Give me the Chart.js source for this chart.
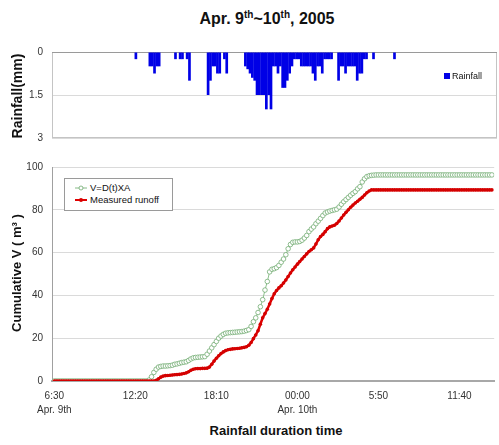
<!DOCTYPE html>
<html>
<head>
<meta charset="utf-8">
<script src="https://cdn.jsdelivr.net/npm/chart.js@4/dist/chart.umd.min.js"></script>
<style>
html,body{margin:0;padding:0;background:#fff;width:499px;height:445px;overflow:hidden;font-family:"Liberation Sans",Arial,sans-serif;color:#111;}
.abs{position:absolute;}
canvas{position:absolute;left:0;}
#title{left:137px;width:260px;top:9px;text-align:center;font-weight:bold;font-size:16px;line-height:20px;}
#title sup{font-size:10px;vertical-align:6px;line-height:0;}
.ytitle{width:220px;height:16px;line-height:16px;text-align:center;font-weight:bold;font-size:13px;transform:rotate(-90deg);}
#xtitle{left:176px;width:200px;top:423px;text-align:center;font-weight:bold;font-size:13px;line-height:16px;}
#leg2{left:64px;top:178px;width:107px;height:31px;border:1px solid #9a9a9a;background:#fff;font-size:9.5px;line-height:12px;}
.li{position:absolute;left:8px;white-space:nowrap;}
.li svg{position:absolute;left:0;top:0;}
.li span{position:absolute;left:17px;top:0;}
#leg1{left:444px;top:70px;font-size:9px;line-height:12px;white-space:nowrap;}
#leg1 i{display:inline-block;width:6px;height:6px;background:#0000e6;margin-right:2px;vertical-align:0px;}
</style>
</head>
<body>
<div id="title" class="abs">Apr. 9<sup>th</sup>~10<sup>th</sup>, 2005</div>
<canvas id="c2" width="499" height="270" style="top:150px"></canvas>
<canvas id="c1" width="499" height="116" style="top:37px"></canvas>
<div class="abs ytitle" style="left:-93px;top:88px;font-size:14px;">Rainfall(mm)</div>
<div class="abs ytitle" style="left:-93px;top:265px;">Cumulative V ( m³ )</div>
<div id="xtitle" class="abs">Rainfall duration time</div>
<div id="leg1" class="abs"><i></i>Rainfall</div>
<div id="leg2" class="abs">
  <div class="li" style="top:3px;"><svg width="16" height="12"><line x1="2" y1="6" x2="14" y2="6" stroke="#86bb86" stroke-width="1"/><circle cx="8" cy="6" r="2" fill="#fff" stroke="#70aa70" stroke-width="0.8"/></svg><span>V=D(t)XA</span></div>
  <div class="li" style="top:15px;"><svg width="16" height="12"><line x1="2" y1="6" x2="14" y2="6" stroke="#e00000" stroke-width="2"/><circle cx="8" cy="6" r="2" fill="#d80000"/></svg><span>Measured runoff</span></div>
</div>
<script>
// ---- data (10-minute steps starting 6:30 Apr. 9th) ----
const timeTicks = [0, 35, 70, 105, 140, 175];
const tickLabels = ["6:30", "12:20", "18:10", "00:00", "5:50", "11:40"];
const dateLabels = ["Apr. 9th", "", "", "Apr. 10th", "", ""];
const rainTicks = [0, 1.5, 3];
const volumeTicks = [0, 20, 40, 60, 80, 100];

const rainfall = [
 0,0,0,0,0,0,0,0,0,0,
 0,0,0,0,0,0,0,0,0,0,
 0,0,0,0,0,0,0,0,0,0,
 0,0,0,0,0,0.25,0,0,0,0,
 0,0.5,0.5,0.75,0.5,0.5,0,0,0,0,
 0,0,0.25,0,0.25,0.25,0,0.25,1.0,0,
 0,0,0,0,0,0,1.5,1.0,0.5,0.5,
 0.75,0.75,0,0.25,0.75,0,0,0,0,0,
 0,0,0.5,0.6,0.75,0.9,1.0,1.5,1.5,1.5,
 1.5,2.0,1.5,2.0,0.5,0.5,0.75,0.5,1.25,1.25,
 1.0,0.75,0.5,0.25,0.25,0.25,0.5,0.5,0.5,0.5,
 0.5,0.75,1.0,0.5,0.5,0.75,0.25,0.25,0.25,0.25,
 0,0,1.0,0.5,0.5,0.75,0.5,0.5,0.5,0.5,
 1.0,0.75,0.75,0.25,0.25,0,0,0.25,0,0,
 0,0,0,0,0,0,0.25,0,0,0,
 0,0,0,0,0,0,0,0,0,0,
 0,0,0,0,0,0,0,0,0,0,
 0,0,0,0,0,0,0,0,0,0,
 0,0,0,0,0,0,0,0,0,0
];

const vDtXA = [
 0,0,0,0,0,0,0,0,0,0,
 0,0,0,0,0,0,0,0,0,0,
 0,0,0,0,0,0,0,0,0,0,
 0,0,0,0,0,0,0,0,0,0,
 0,0.5,2.0,4.0,5.5,6.5,6.8,7.0,7.0,7.1,
 7.2,7.4,7.8,8.0,8.3,8.6,8.8,9.0,9.6,10.3,
 10.8,11.0,11.1,11.2,11.3,11.4,12.5,14.0,15.5,17.0,
 18.5,20.0,21.0,21.8,22.3,22.5,22.6,22.7,22.8,22.9,
 23.0,23.1,23.3,23.6,24.0,25.5,27.7,29.5,32.0,34.7,
 38.0,42.5,46.5,51.0,52.2,52.5,53.0,54.0,55.5,57.0,
 59.0,61.8,63.8,64.8,65.0,65.0,65.2,65.8,66.8,68.0,
 69.8,71.0,72.0,73.5,74.7,76.0,77.3,78.5,79.0,79.4,
 79.7,80.0,80.3,81.3,82.6,83.8,84.8,85.8,86.8,87.7,
 88.5,89.8,90.8,93.0,94.5,95.5,95.9,96.1,96.2,96.3,
 96.3,96.3,96.3,96.3,96.3,96.3,96.3,96.3,96.3,96.3,
 96.3,96.3,96.3,96.3,96.3,96.3,96.3,96.3,96.3,96.3,
 96.3,96.3,96.3,96.3,96.3,96.3,96.3,96.3,96.3,96.3,
 96.3,96.3,96.3,96.3,96.3,96.3,96.3,96.3,96.3,96.3,
 96.3,96.3,96.3,96.3,96.3,96.3,96.3,96.3,96.3,96.3
];

const measuredRunoff = [
 0,0,0,0,0,0,0,0,0,0,
 0,0,0,0,0,0,0,0,0,0,
 0,0,0,0,0,0,0,0,0,0,
 0,0,0,0,0,0,0,0,0,0,
 0,0,0,0,0.3,1.0,1.8,2.3,2.5,2.6,
 2.7,2.8,2.9,3.0,3.1,3.3,3.5,3.8,4.3,5.0,
 5.5,5.7,5.8,5.8,5.9,5.9,6.0,6.5,7.8,9.3,
 10.6,11.8,12.8,13.6,14.2,14.6,14.8,15.0,15.1,15.2,
 15.3,15.5,15.7,16.0,16.7,18.0,19.8,21.5,23.5,26.5,
 29.5,31.5,33.5,36.0,38.5,40.8,42.3,43.5,44.5,45.8,
 47.2,48.8,50.5,52.0,53.3,54.6,55.8,57.0,58.2,59.4,
 60.5,61.3,62.2,64.0,66.0,67.5,68.5,69.8,71.2,72.0,
 72.4,72.8,73.6,74.8,76.2,77.6,78.8,80.0,81.2,82.2,
 83.2,84.0,84.9,85.8,86.9,88.0,88.8,89.3,89.3,89.3,
 89.3,89.3,89.3,89.3,89.3,89.3,89.3,89.3,89.3,89.3,
 89.3,89.3,89.3,89.3,89.3,89.3,89.3,89.3,89.3,89.3,
 89.3,89.3,89.3,89.3,89.3,89.3,89.3,89.3,89.3,89.3,
 89.3,89.3,89.3,89.3,89.3,89.3,89.3,89.3,89.3,89.3,
 89.3,89.3,89.3,89.3,89.3,89.3,89.3,89.3,89.3,89.3
];

// ---- charts ----
const FONT = '"Liberation Sans", Arial, sans-serif';
const toXY = arr => arr.map((v, i) => ({x: i, y: v}));

const framePlugin = {
  id: 'frame',
  beforeDatasetsDraw(chart) {
    const a = chart.chartArea, ctx = chart.ctx;
    ctx.save();
    ctx.strokeStyle = '#c4c4c4';
    ctx.lineWidth = 1;
    ctx.strokeRect(a.left + 0.5, a.top + 0.5, a.right - a.left - 1, a.bottom - a.top - 1);
    ctx.strokeStyle = '#9a9a9a';
    ctx.beginPath();
    ctx.moveTo(a.left, a.top + 0.5);
    ctx.lineTo(a.right, a.top + 0.5);
    ctx.stroke();
    ctx.restore();
  }
};

new Chart(document.getElementById('c1'), {
  type: 'bar',
  data: {
    datasets: [{
      label: 'Rainfall',
      data: toXY(rainfall),
      backgroundColor: '#0000e6',
      borderWidth: 0,
      barPercentage: 1.15,
      categoryPercentage: 1
    }]
  },
  options: {
    responsive: false,
    animation: false,
    layout: {padding: {top: 0, right: 2, bottom: 0, left: 0}},
    plugins: {legend: {display: false}, tooltip: {enabled: false}},
    scales: {
      x: {type: 'linear', min: -1, max: 190, display: false, offset: false},
      y: {
        min: 0, max: 3, reverse: true,
        afterBuildTicks: s => { s.ticks = rainTicks.map(v => ({value: v})); },
        afterFit: s => { s.width = 52; },
        grid: {color: '#dadada', drawTicks: false},
        border: {display: false},
        ticks: {padding: 9, color: '#333', font: {size: 10, family: FONT}, callback: v => String(v)}
      }
    }
  },
  plugins: [framePlugin]
});

new Chart(document.getElementById('c2'), {
  type: 'line',
  data: {
    datasets: [
      {
        label: 'V=D(t)XA',
        data: toXY(vDtXA),
        borderColor: '#8cc08c',
        borderWidth: 1,
        pointRadius: 2.3,
        pointBackgroundColor: '#ffffff',
        pointBorderColor: '#72ac72',
        pointBorderWidth: 0.8,
        order: 1
      },
      {
        label: 'Measured runoff',
        data: toXY(measuredRunoff),
        borderColor: '#e00000',
        borderWidth: 2.5,
        pointRadius: 1.8,
        pointBackgroundColor: '#d40000',
        pointBorderWidth: 0,
        order: 0
      }
    ]
  },
  options: {
    responsive: false,
    animation: false,
    layout: {padding: {top: 17, right: 2, bottom: 0, left: 0}},
    plugins: {legend: {display: false}, tooltip: {enabled: false}},
    scales: {
      x: {
        type: 'linear', min: -1, max: 190, offset: false,
        afterBuildTicks: s => { s.ticks = timeTicks.map(v => ({value: v})); },
        afterFit: s => { s.height = 39; },
        grid: {display: false, drawTicks: false},
        border: {color: '#a8a8a8', width: 2},
        ticks: {
          padding: 8, maxRotation: 0, autoSkip: false, color: '#333',
          font: {size: 10, family: FONT, lineHeight: 1.4},
          callback: v => {
            const k = timeTicks.indexOf(v);
            if (k < 0) return '';
            return dateLabels[k] ? [tickLabels[k], dateLabels[k]] : tickLabels[k];
          }
        }
      },
      y: {
        min: 0, max: 100,
        afterBuildTicks: s => { s.ticks = volumeTicks.map(v => ({value: v})); },
        afterFit: s => { s.width = 52; },
        grid: {color: '#dadada', drawTicks: false},
        border: {color: '#a0a0a0', width: 1},
        ticks: {padding: 9, color: '#333', font: {size: 10, family: FONT}}
      }
    }
  }
});
</script>
</body>
</html>
